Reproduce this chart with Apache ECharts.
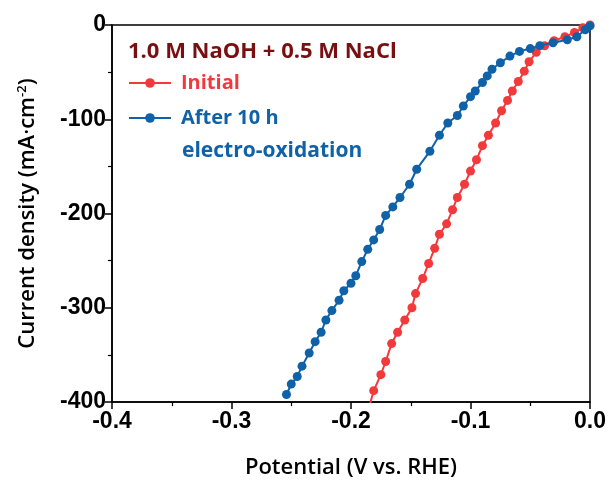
<!DOCTYPE html>
<html>
<head>
<meta charset="utf-8">
<script src="https://cdn.jsdelivr.net/npm/echarts@6/dist/echarts.min.js"></script>
<style>html,body{margin:0;padding:0;background:#fff;}#c{width:609px;height:484px;}</style>
</head>
<body>
<div id="c"></div>
<script>
// Initial: potential (V vs. RHE), current density (mA cm^-2)
var initialV = [0, -0.006, -0.013, -0.021, -0.030, -0.038, -0.045, -0.051, -0.055, -0.060, -0.065, -0.069, -0.074, -0.079, -0.085, -0.090, -0.095, -0.100, -0.105, -0.111, -0.115, -0.120, -0.126, -0.130, -0.135, -0.140, -0.146, -0.149, -0.155, -0.161, -0.166, -0.171, -0.175, -0.181, -0.185];
var initialJ = [0, -3, -8, -12.5, -16.7, -22, -29, -39, -49, -60, -70, -80, -91, -104, -117, -128, -143, -155, -169, -183, -196, -211, -222, -237, -253, -269, -285, -300, -313, -326, -338, -357, -371, -388, -406];
// After 10 h electro-oxidation
var afterV = [0, -0.004, -0.011, -0.019, -0.031, -0.042, -0.050, -0.059, -0.067, -0.075, -0.082, -0.086, -0.090, -0.096, -0.100, -0.106, -0.111, -0.119, -0.126, -0.134, -0.145, -0.151, -0.159, -0.165, -0.171, -0.176, -0.181, -0.186, -0.191, -0.196, -0.200, -0.206, -0.210, -0.216, -0.221, -0.225, -0.230, -0.235, -0.241, -0.245, -0.250, -0.254];
var afterJ = [-1, -5, -12.5, -15.7, -18.8, -21.9, -25, -28, -33, -40, -47, -54, -61, -70, -76, -86, -96, -104, -117, -134, -153, -169, -183, -193, -202, -217, -228, -238, -251, -266, -274, -282, -292, -303, -313, -326, -336, -348, -362, -373, -381, -392];
var xTicks = [-0.4, -0.3, -0.2, -0.1, 0.0];
var yTicks = [0, -100, -200, -300, -400];

function pairs(xs, ys) { return xs.map(function (x, i) { return [x, ys[i]]; }); }

var RED = '#f23a3c', BLUE = '#0f62a8', DARK = '#7a0f12';
var chart = echarts.init(document.getElementById('c'), null, {renderer: 'canvas'});
var tickFont = {fontFamily: 'Liberation Sans, Arial, sans-serif', fontWeight: 'bold', fontSize: 23, color: '#000'};
chart.setOption({
  animation: false,
  backgroundColor: '#fff',
  grid: {left: 112, right: 19, top: 25, bottom: 76, show: true, borderColor: '#000', borderWidth: 1.5},
  xAxis: {
    type: 'value', min: xTicks[0], max: xTicks[xTicks.length - 1], interval: 0.1,
    name: 'Potential (V vs. RHE)', nameLocation: 'middle', nameGap: 55,
    nameTextStyle: {fontFamily: 'Open Sans, sans-serif', fontWeight: 600, fontSize: 22, color: '#000'},
    axisLine: {onZero: false, lineStyle: {color: '#000', width: 1.5}},
    axisTick: {inside: false, length: 7, lineStyle: {color: '#000', width: 1.5}},
    minorTick: {show: true, splitNumber: 2, length: 4, lineStyle: {color: '#000', width: 1.2}},
    splitLine: {show: false},
    axisLabel: Object.assign({margin: 8, formatter: function (v) { return (Math.abs(v) < 1e-9 ? 0 : v).toFixed(1); }}, tickFont)
  },
  yAxis: {
    type: 'value', min: yTicks[yTicks.length - 1], max: yTicks[0], interval: 100,
    name: '{a|Current density (mA·cm}{s|-2}{a|)}', nameLocation: 'middle', nameGap: 73, nameRotate: 90,
    nameTextStyle: {
      rich: {
        a: {fontFamily: 'Open Sans, sans-serif', fontWeight: 600, fontSize: 22, color: '#000'},
        s: {fontFamily: 'Open Sans, sans-serif', fontWeight: 600, fontSize: 13, color: '#000', verticalAlign: 'top', padding: [0, 0, 10, 0]}
      }
    },
    axisLine: {onZero: false, lineStyle: {color: '#000', width: 1.5}},
    axisTick: {inside: false, length: 7, lineStyle: {color: '#000', width: 1.5}},
    minorTick: {show: true, splitNumber: 2, length: 4, lineStyle: {color: '#000', width: 1.2}},
    splitLine: {show: false},
    axisLabel: Object.assign({margin: 6}, tickFont)
  },
  legend: {
    orient: 'vertical', left: 128, top: 73, padding: 0, itemGap: 15, itemWidth: 42, itemHeight: 12,
    textStyle: {fontFamily: 'Open Sans, sans-serif', fontWeight: 'bold', fontSize: 20, color: 'inherit', padding: [0, 0, 0, 5]},
    data: ['Initial', 'After 10 h']
  },
  graphic: [
    {type: 'text', left: 128, top: 41, style: {text: '1.0 M NaOH + 0.5 M NaCl', fill: DARK, font: 'bold 22px "Open Sans", sans-serif'}},
    {type: 'text', left: 182, top: 141, style: {text: 'electro-oxidation', fill: BLUE, font: 'bold 21px "Open Sans", sans-serif'}}
  ],
  series: [
    {name: 'Initial', type: 'line', data: pairs(initialV, initialJ), color: RED, clip: true,
      symbol: 'circle', symbolSize: 9, lineStyle: {width: 2}, z: 2},
    {name: 'After 10 h', type: 'line', data: pairs(afterV, afterJ), color: BLUE, clip: true,
      symbol: 'circle', symbolSize: 9, lineStyle: {width: 2}, z: 3}
  ]
});
</script>
</body>
</html>
